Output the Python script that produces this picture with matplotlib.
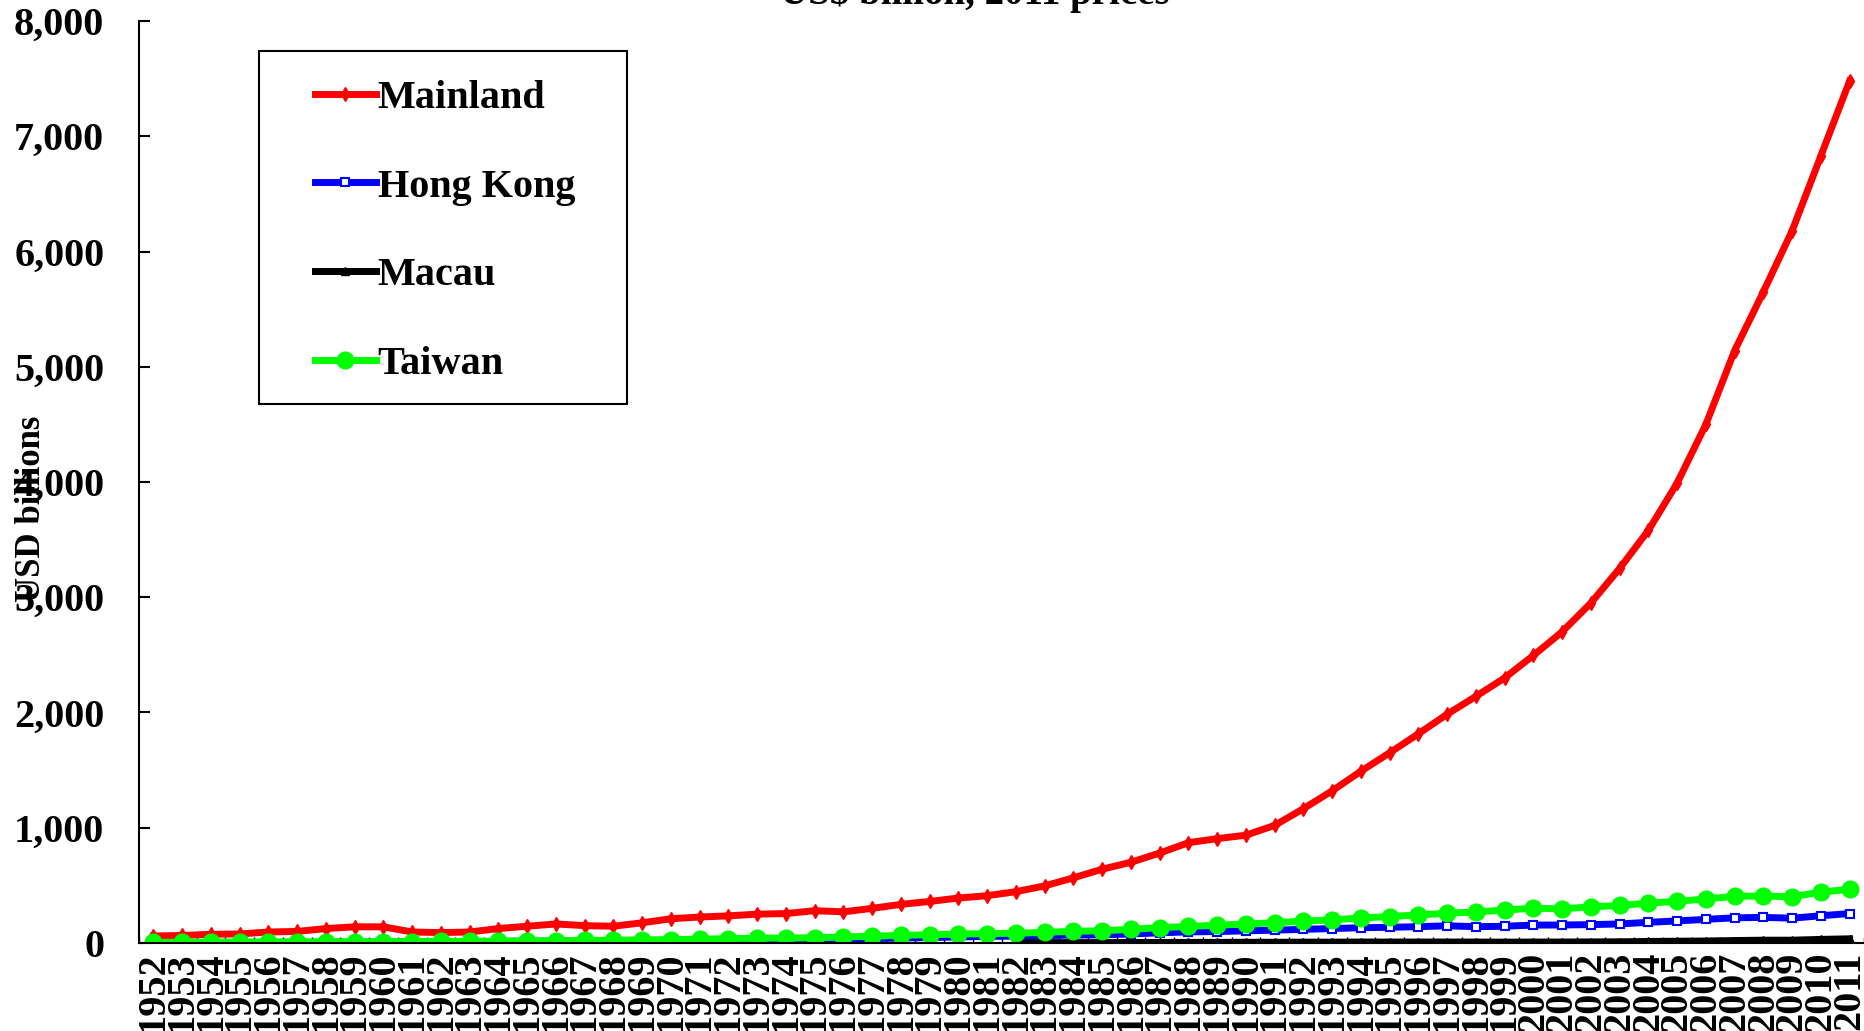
import matplotlib
matplotlib.use('Agg')
import matplotlib.pyplot as plt
import numpy as np
from matplotlib.patches import Rectangle
from matplotlib.ticker import FuncFormatter, MultipleLocator

plt.rcParams['font.family'] = 'Liberation Serif'
plt.rcParams['font.weight'] = 'bold'

years = list(range(1952, 2012))

# US$ billion, 2011 prices
mainland = [60, 65, 75, 78, 95, 100, 125, 140, 140, 95,
            90, 95, 125, 145, 165, 150, 145, 175, 210, 225,
            235, 250, 255, 280, 270, 300, 335, 360, 390, 410,
            445, 495, 565, 640, 700, 780, 870, 905, 935, 1020,
            1165, 1320, 1490, 1650, 1815, 1985, 2140, 2300, 2495, 2700,
            2950, 3250, 3580, 3990, 4500, 5140, 5650, 6180, 6830, 7480]

hong_kong = [4, 4, 5, 5, 6, 6, 7, 7, 8, 9,
             10, 12, 13, 15, 15, 16, 17, 19, 21, 23,
             25, 28, 29, 29, 34, 38, 42, 47, 52, 57,
             59, 63, 69, 70, 78, 88, 96, 99, 105, 111,
             118, 125, 132, 136, 141, 149, 141, 145, 155, 156,
             159, 165, 179, 191, 205, 218, 222, 215, 236, 255]

macau = [np.nan] * 30 + [3, 3, 3, 3, 4, 4, 5, 5, 6, 6,
                         7, 7, 8, 8, 8, 8, 8, 7, 8, 8,
                         9, 10, 13, 15, 17, 21, 24, 24, 31, 36]

taiwan = [5, 6, 7, 7, 8, 9, 9, 10, 11, 12,
          13, 14, 16, 18, 20, 22, 24, 26, 29, 33,
          37, 42, 43, 45, 52, 58, 66, 71, 77, 81,
          84, 92, 101, 106, 118, 133, 143, 155, 164, 176,
          189, 201, 216, 229, 243, 258, 269, 285, 302, 296,
          313, 325, 345, 362, 381, 405, 407, 400, 442, 465]

fig = plt.figure(figsize=(18.64, 10.31), dpi=100)
ax = fig.add_axes([0.0746, 0.0854, 0.9254, 0.8942])

ax.plot(years, mainland, color='#FF0000', lw=5, marker='d', ms=7, label='Mainland')
ax.plot(years, hong_kong, color='#0000FF', lw=5, marker='s', ms=6,
        mfc='white', mec='#0000FF', mew=1.5, label='Hong Kong')
ax.plot(years, macau, color='black', lw=5, marker='^', ms=6, label='Macau')
ax.plot(years, taiwan, color='#00FF00', lw=5, marker='o', ms=12, label='Taiwan')

ax.set_xlim(1951.5, 2011.5)
ax.set_ylim(0, 8000)
ax.yaxis.set_major_locator(MultipleLocator(1000))
ax.yaxis.set_major_formatter(FuncFormatter(lambda v, p: f'{int(v):,}'))
ax.set_xticks(years)
ax.set_xticklabels([str(y) for y in years], rotation=90, va='top')
ax.set_xticks(np.arange(1951.5, 2012, 1), minor=True)

ax.tick_params(axis='y', direction='in', length=8, width=1.5, labelsize=29, pad=25)
ax.tick_params(axis='x', which='major', length=0, labelsize=29, pad=6)
ax.tick_params(axis='x', which='minor', direction='in', length=4, width=1)

for s in ['top', 'right']:
    ax.spines[s].set_visible(False)
ax.spines['left'].set_linewidth(1.5)
ax.spines['bottom'].set_linewidth(1.5)

ax.set_ylabel('USD billions', fontsize=25, fontweight='bold')
ax.yaxis.set_label_coords(-0.053, 0.471)

fig.text(0.523, 0.996, 'US\\$ billion, 2011 prices', ha='center', va='baseline', fontsize=28)

leg = ax.legend(loc='upper left', bbox_to_anchor=(0.0858, 0.967), borderaxespad=0,
                fontsize=29, frameon=False,
                handlelength=1.5, handletextpad=0.05, labelspacing=1.28, borderpad=0.7)
ax.add_patch(Rectangle((0.0696, 0.5846), 0.2133, 0.3829, transform=ax.transAxes,
                       fill=False, edgecolor='black', lw=1.5, zorder=5))

fig.savefig('out.png', dpi=100)
